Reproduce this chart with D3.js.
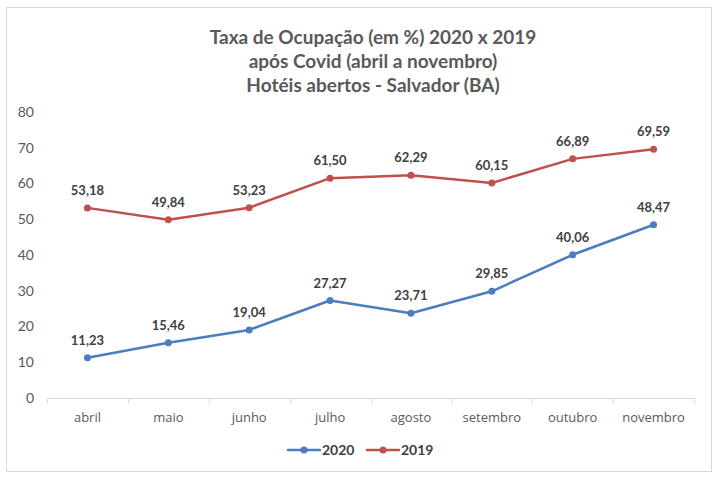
<!DOCTYPE html>
<html><head><meta charset="utf-8">
<script src="https://cdn.jsdelivr.net/npm/d3@7"></script>
<style>
html,body{margin:0;padding:0;background:#fff;}
svg{display:block;font-family:Lato,"Open Sans",sans-serif;}
</style></head>
<body><svg id="chart" width="720" height="480"></svg>
<script>
const categories = ["abril","maio","junho","julho","agosto","setembro","outubro","novembro"];
const values2020 = [11.23,15.46,19.04,27.27,23.71,29.85,40.06,48.47];
const values2019 = [53.18,49.84,53.23,61.50,62.29,60.15,66.89,69.59];
const yTicks = [0,10,20,30,40,50,60,70,80];
const titleLines = ["Taxa de Ocupação (em %) 2020 x 2019","após Covid (abril a novembro)","Hotéis abertos - Salvador (BA)"];
const seriesNames = ["2020","2019"];

const svg = d3.select("#chart");
const colors = {"2020":"#4a7ebf","2019":"#c0504d"};

svg.append("rect").attr("x",6.5).attr("y",7.5).attr("width",705).attr("height",464)
  .attr("fill","#fff").attr("stroke","#d9d9d9").attr("stroke-width",1);

const title = svg.append("text").attr("text-anchor","middle").attr("fill","#595959")
  .attr("font-weight","bold").attr("font-size",19);
titleLines.forEach((t,i)=>title.append("tspan").attr("x",373).attr("y",44+i*24).text(t));

const x = d3.scaleBand().domain(categories).range([47,694]);
const y = d3.scaleLinear().domain([0,80]).range([398,112]);

// y axis labels
const yAxis = d3.axisLeft(y).tickValues(yTicks).tickSize(0).tickPadding(0).tickFormat(d3.format("d"));
const ya = svg.append("g").attr("transform","translate(34,0)").call(yAxis);
ya.select(".domain").remove();
ya.selectAll("text").attr("fill","#595959").attr("font-size",14).attr("font-family","Lato,'Open Sans',sans-serif");

// x axis
const xa = svg.append("g").attr("transform","translate(0,398)");
xa.append("line").attr("x1",47).attr("x2",694).attr("y1",0.5).attr("y2",0.5).attr("stroke","#d9d9d9");
const bounds = categories.map(c=>x(c)).concat([x.range()[1]]);
xa.selectAll("line.tk").data(bounds).join("line").attr("class","tk")
  .attr("x1",d=>Math.round(d)+0.5).attr("x2",d=>Math.round(d)+0.5).attr("y1",0).attr("y2",5).attr("stroke","#d9d9d9");
xa.selectAll("text").data(categories).join("text")
  .attr("x",d=>x(d)+x.bandwidth()/2).attr("y",24).attr("text-anchor","middle")
  .attr("fill","#595959").attr("font-size",13).attr("font-family","'Open Sans',Lato,sans-serif").text(d=>d);

const cx = d=>x(d)+x.bandwidth()/2;
const fmt = v=>v.toFixed(2).replace(".",",");
const seriesData = [["2020",values2020],["2019",values2019]];
const line = d3.line().x((d,i)=>cx(categories[i])).y(d=>y(d));
seriesData.forEach(([name,vals])=>{
  const g = svg.append("g");
  g.append("path").datum(vals).attr("d",line).attr("fill","none")
    .attr("stroke",colors[name]).attr("stroke-width",2.5).attr("stroke-linejoin","round").attr("stroke-linecap","round");
  g.selectAll("circle").data(vals).join("circle")
    .attr("cx",(d,i)=>cx(categories[i])).attr("cy",d=>y(d)).attr("r",3.5).attr("fill",colors[name]);
  g.selectAll("text").data(vals).join("text")
    .attr("x",(d,i)=>cx(categories[i])).attr("y",d=>y(d)-13).attr("text-anchor","middle")
    .attr("fill","#404040").attr("font-size",13).attr("font-weight","bold").text(fmt);
});

// legend
const leg = svg.append("g").attr("transform","translate(0,450)");
const legX = {"2020":288,"2019":367};
seriesNames.forEach(n=>{
  const lx = legX[n];
  leg.append("line").attr("x1",lx).attr("x2",lx+32).attr("y1",0).attr("y2",0)
    .attr("stroke",colors[n]).attr("stroke-width",2.5).attr("stroke-linecap","round");
  leg.append("circle").attr("cx",lx+16).attr("cy",0).attr("r",3.5).attr("fill",colors[n]);
  leg.append("text").attr("x",lx+34).attr("y",5).attr("fill","#404040")
    .attr("font-size",14).attr("font-weight","bold").text(n);
});
</script></body></html>
